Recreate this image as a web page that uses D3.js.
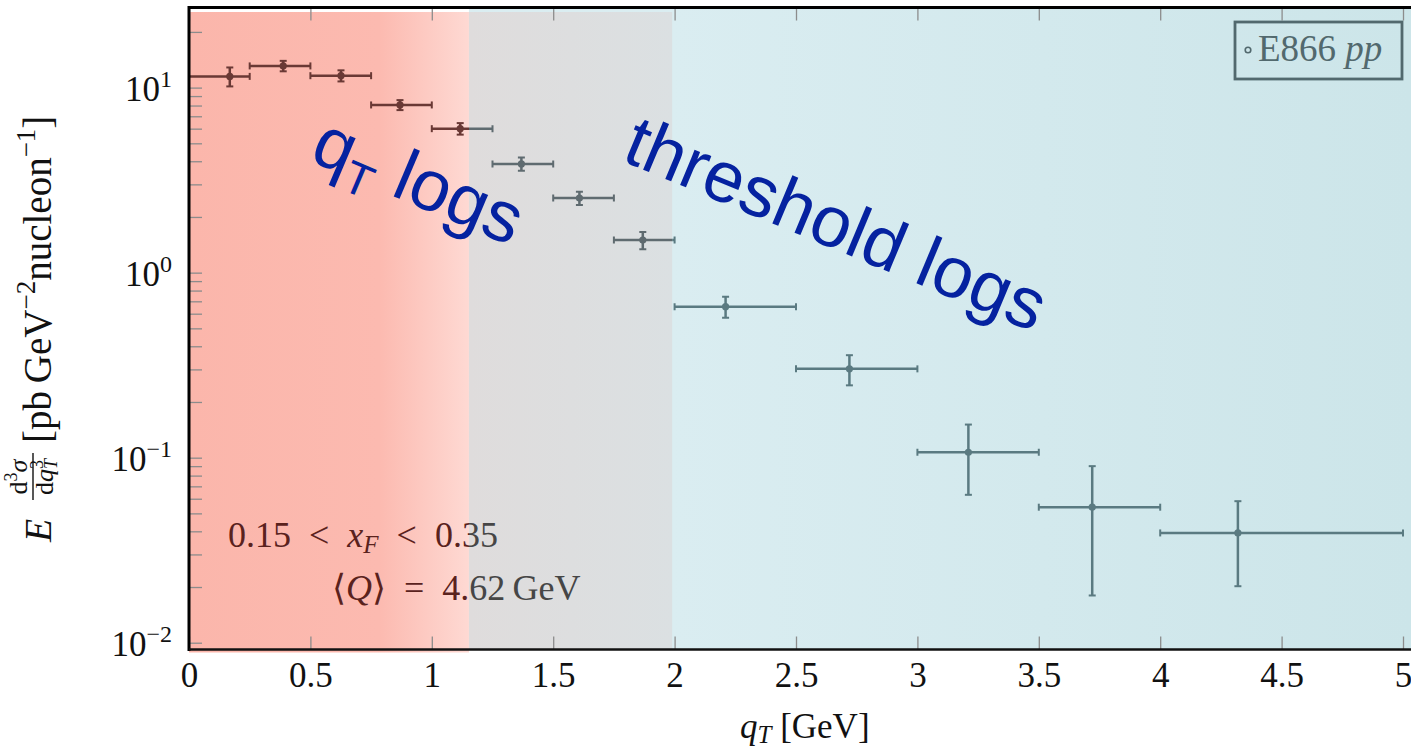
<!DOCTYPE html>
<html lang="en">
  <head>
    <meta charset="UTF-8" />
    <title>E866 pp qT spectrum</title>
    <script src="https://d3js.org/d3.v7.min.js"></script>
    <style>
      body { margin: 0; background: #fff; }
      svg { display: block; }
    </style>
  </head>
  <body>
    <svg id="chart"></svg>
    <script>
      // E866 pp, 0.15 < xF < 0.35
      let binLo = [0, 0.25, 0.5, 0.75, 1.0, 1.25, 1.5, 1.75, 2.0, 2.5, 3.0, 3.5, 4.0]
      let binHi = [0.25, 0.5, 0.75, 1.0, 1.25, 1.5, 1.75, 2.0, 2.5, 3.0, 3.5, 4.0, 5.0]
      let qT = [0.168, 0.388, 0.626, 0.869, 1.117, 1.369, 1.608, 1.869, 2.21, 2.72, 3.21, 3.72, 4.32]
      let sigma = [11.5, 13.1, 11.6, 8.06, 6.0, 3.87, 2.53, 1.5, 0.655, 0.302, 0.107, 0.054, 0.0392]
      let sigmaErr = [1.35, 0.85, 0.8, 0.5, 0.43, 0.32, 0.21, 0.16, 0.085, 0.056, 0.044, 0.036, 0.019]

      let xTicks = [0, 0.5, 1, 1.5, 2, 2.5, 3, 3.5, 4, 4.5, 5]
      let xTickLabels = ['0', '0.5', '1', '1.5', '2', '2.5', '3', '3.5', '4', '4.5', '5']
      let yMajor = [10, 1, 0.1, 0.01]
      let yMajorExp = ['1', '0', '\u22121', '\u22122']

      // region edges (qT logs / transition / threshold logs)
      let bandEdges = [1.153, 1.99]

      let width = 1411
      let height = 750
      let pLeft = 189, pTop = 7.5, pBottom = 649.5
      let serif = '"Liberation Serif", "Times New Roman", serif'
      let sans = '"Liberation Sans", Arial, sans-serif'

      let svg = d3.select('#chart').attr('width', width).attr('height', height)
      let defs = svg.append('defs')

      let x = d3.scaleLinear().domain([0, 5]).range([pLeft, 1403])
      let y = d3.scaleLog().domain([0.00919, 27.1]).range([pBottom, pTop])

      // gradients
      let gRed = defs.append('linearGradient').attr('id', 'gRed')
        .attr('gradientUnits', 'userSpaceOnUse')
        .attr('x1', x(0)).attr('x2', x(bandEdges[0])).attr('y1', 0).attr('y2', 0)
      gRed.append('stop').attr('offset', 0).attr('stop-color', '#fbb6ab')
      gRed.append('stop').attr('offset', 0.68).attr('stop-color', '#fcbab0')
      gRed.append('stop').attr('offset', 1).attr('stop-color', '#fed9d3')

      let gGray = defs.append('linearGradient').attr('id', 'gGray')
        .attr('gradientUnits', 'userSpaceOnUse')
        .attr('x1', x(bandEdges[0])).attr('x2', x(bandEdges[1])).attr('y1', 0).attr('y2', 0)
      gGray.append('stop').attr('offset', 0).attr('stop-color', '#dfdcdc')
      gGray.append('stop').attr('offset', 1).attr('stop-color', '#dbe0e2')

      let gBlue = defs.append('linearGradient').attr('id', 'gBlue')
        .attr('gradientUnits', 'userSpaceOnUse')
        .attr('x1', x(bandEdges[1])).attr('x2', width).attr('y1', 0).attr('y2', 0)
      gBlue.append('stop').attr('offset', 0).attr('stop-color', '#daedf1')
      gBlue.append('stop').attr('offset', 1).attr('stop-color', '#cce5e9')

      // clip paths for the ink colour in each region
      let regions = [
        { id: 'cRed', x0: 0, x1: x(bandEdges[0]), bar: '#6a3935', text: '#5a221d' },
        { id: 'cGray', x0: x(bandEdges[0]), x1: x(bandEdges[1]), bar: '#5f6b70', text: '#464646' },
        { id: 'cBlue', x0: x(bandEdges[1]), x1: width, bar: '#5a7a81', text: '#3a4a4f' },
      ]
      regions.forEach(r => {
        defs.append('clipPath').attr('id', r.id)
          .append('rect').attr('x', r.x0).attr('y', 0).attr('width', r.x1 - r.x0).attr('height', height)
      })

      // background bands
      svg.append('rect')
        .attr('x', x(bandEdges[0])).attr('y', pTop)
        .attr('width', width - x(bandEdges[0])).attr('height', pBottom - pTop)
        .style('fill', 'url(#gBlue)')
      svg.append('rect')
        .attr('x', x(0)).attr('y', pTop + 4.5)
        .attr('width', x(bandEdges[0]) - x(0)).attr('height', pBottom - pTop - 1.5)
        .style('fill', 'url(#gRed)')
      svg.append('rect')
        .attr('x', x(bandEdges[0])).attr('y', pTop + 4.5)
        .attr('width', x(bandEdges[1]) - x(bandEdges[0])).attr('height', pBottom - pTop - 4.5)
        .style('fill', 'url(#gGray)')

      // ticks (inside)
      let tickCol = '#8c8c8c'
      let yMinor = y.ticks().filter(v => v >= y.domain()[0] && v <= y.domain()[1])
      let yAx = svg.append('g').attr('transform', `translate(${pLeft},0)`)
        .call(d3.axisLeft(y).tickValues(yMinor).tickSize(-13).tickFormat(() => ''))
      yAx.select('.domain').remove()
      yAx.selectAll('line').attr('stroke', tickCol).attr('stroke-width', 1.3)

      let xTop = svg.append('g').attr('transform', `translate(0,${pTop})`)
        .call(d3.axisTop(x).tickValues(xTicks).tickSize(-13).tickFormat(() => ''))
      xTop.select('.domain').remove()
      xTop.selectAll('line').attr('stroke', tickCol).attr('stroke-width', 1.3)

      let xBot = svg.append('g').attr('transform', `translate(0,${pBottom})`)
        .call(d3.axisBottom(x).tickValues(xTicks).tickSize(-13).tickPadding(13)
          .tickFormat((d, i) => xTickLabels[i]))
      xBot.select('.domain').remove()
      xBot.selectAll('line').attr('stroke', tickCol).attr('stroke-width', 1.3)
      xBot.selectAll('text')
        .attr('font-family', serif).attr('font-size', 35).attr('fill', '#111')

      // data ink, drawn once per region with its own colour
      function drawInk(g, barCol, textCol) {
        let pts = g.selectAll('g.pt').data(d3.range(qT.length)).join('g').attr('class', 'pt')
          .attr('stroke', barCol).attr('fill', barCol)
        pts.append('line')
          .attr('x1', i => x(binLo[i])).attr('x2', i => x(binHi[i]))
          .attr('y1', i => y(sigma[i])).attr('y2', i => y(sigma[i]))
          .attr('stroke-width', 2.5)
        pts.append('line')
          .attr('x1', i => x(binLo[i])).attr('x2', i => x(binLo[i]))
          .attr('y1', i => y(sigma[i]) - 3.5).attr('y2', i => y(sigma[i]) + 3.5)
          .attr('stroke-width', 2)
        pts.append('line')
          .attr('x1', i => x(binHi[i])).attr('x2', i => x(binHi[i]))
          .attr('y1', i => y(sigma[i]) - 3.5).attr('y2', i => y(sigma[i]) + 3.5)
          .attr('stroke-width', 2)
        pts.append('line')
          .attr('x1', i => x(qT[i])).attr('x2', i => x(qT[i]))
          .attr('y1', i => y(sigma[i] + sigmaErr[i])).attr('y2', i => y(sigma[i] - sigmaErr[i]))
          .attr('stroke-width', 2.5)
        pts.append('line')
          .attr('x1', i => x(qT[i]) - 3.5).attr('x2', i => x(qT[i]) + 3.5)
          .attr('y1', i => y(sigma[i] + sigmaErr[i])).attr('y2', i => y(sigma[i] + sigmaErr[i]))
          .attr('stroke-width', 2)
        pts.append('line')
          .attr('x1', i => x(qT[i]) - 3.5).attr('x2', i => x(qT[i]) + 3.5)
          .attr('y1', i => y(sigma[i] - sigmaErr[i])).attr('y2', i => y(sigma[i] - sigmaErr[i]))
          .attr('stroke-width', 2)
        pts.append('circle')
          .attr('cx', i => x(qT[i])).attr('cy', i => y(sigma[i])).attr('r', 3.6)
          .attr('stroke', 'none')

        let t1 = g.append('text').attr('x', 228).attr('y', 547)
          .attr('font-family', serif).attr('font-size', 36).attr('fill', textCol)
        t1.append('tspan').text('0.15\u2002<\u2002')
        t1.append('tspan').attr('font-style', 'italic').text('x')
        t1.append('tspan').attr('font-style', 'italic').attr('font-size', 25).attr('dy', 6).text('F')
        t1.append('tspan').attr('dy', -6).text('\u2002<\u20020.35')

        let t2 = g.append('text').attr('x', 332).attr('y', 600)
          .attr('font-family', serif).attr('font-size', 36).attr('fill', textCol)
        t2.append('tspan').text('\u27e8')
        t2.append('tspan').attr('font-style', 'italic').text('Q')
        t2.append('tspan').text('\u27e9\u2002=\u20024.62\u2009GeV')
      }

      regions.slice().reverse().forEach(r => {
        let g = svg.append('g').attr('clip-path', `url(#${r.id})`)
        drawInk(g, r.bar, r.text)
      })

      // frame
      svg.append('line').attr('x1', pLeft).attr('x2', pLeft).attr('y1', pTop - 1.5).attr('y2', pBottom + 1.5)
        .attr('stroke', '#000').attr('stroke-width', 3)
      svg.append('line').attr('x1', pLeft).attr('x2', width).attr('y1', pTop).attr('y2', pTop)
        .attr('stroke', '#000').attr('stroke-width', 3)
      svg.append('line').attr('x1', pLeft).attr('x2', width).attr('y1', pBottom).attr('y2', pBottom)
        .attr('stroke', '#111').attr('stroke-width', 2.6)

      // y tick labels 10^k
      let yLab = svg.append('g').attr('font-family', serif).attr('fill', '#111')
      yMajor.forEach((v, i) => {
        let t = yLab.append('text').attr('x', 172).attr('y', y(v) + 13)
          .attr('text-anchor', 'end').attr('font-size', 35)
        t.append('tspan').text('10')
        t.append('tspan').attr('font-size', 24).attr('dy', -14).text(yMajorExp[i])
      })

      // legend
      let legCol = '#52696e'
      svg.append('rect').attr('x', 1235).attr('y', 22).attr('width', 167).attr('height', 57)
        .attr('fill', 'none').attr('stroke', legCol).attr('stroke-width', 2.8)
      svg.append('circle').attr('cx', 1248).attr('cy', 50).attr('r', 2.8)
        .attr('fill', '#cfe7eb').attr('stroke', legCol).attr('stroke-width', 1.6)
      let lt = svg.append('text').attr('x', 1258).attr('y', 61)
        .attr('font-family', serif).attr('font-size', 37).attr('fill', legCol)
      lt.append('tspan').text('E866 ')
      lt.append('tspan').attr('font-style', 'italic').text('pp')

      // region annotations
      let blue = '#0522a0'
      let a1 = svg.append('text').attr('transform', 'translate(308,160) rotate(23)')
        .attr('font-family', sans).attr('font-size', 72).attr('fill', blue)
      a1.append('tspan').text('q')
      a1.append('tspan').attr('font-size', 46).attr('dy', 14).text('T')
      a1.append('tspan').attr('dy', -14).text(' logs')

      svg.append('text').attr('transform', 'translate(620,160) rotate(22.6)')
        .attr('font-family', sans).attr('font-size', 72).attr('fill', blue)
        .text('threshold logs')

      // x axis title
      let xt = svg.append('text').attr('x', 740).attr('y', 738)
        .attr('font-family', serif).attr('font-size', 35).attr('fill', '#111')
      xt.append('tspan').attr('font-style', 'italic').text('q')
      xt.append('tspan').attr('font-style', 'italic').attr('font-size', 25).attr('dy', 5).text('T')
      xt.append('tspan').attr('dy', -5).text(' [GeV]')

      // y axis title: E d^3sigma / dq_T^3 [pb GeV^-2 nucleon^-1]
      let yt = svg.append('g').attr('transform', 'translate(51,545) rotate(-90)')
        .attr('font-family', serif).attr('fill', '#111')
      yt.append('text').attr('x', 3).attr('y', 0).attr('font-size', 38)
        .attr('font-style', 'italic').text('E')
      let num = yt.append('text').attr('x', 68).attr('y', -24).attr('font-size', 26)
        .attr('text-anchor', 'middle')
      num.append('tspan').text('d')
      num.append('tspan').attr('font-size', 18).attr('dy', -10).text('3')
      num.append('tspan').attr('dy', 10).attr('font-style', 'italic').text('\u03c3')
      yt.append('line').attr('x1', 45).attr('x2', 92).attr('y1', -18).attr('y2', -18)
        .attr('stroke', '#111').attr('stroke-width', 1.4)
      let den = yt.append('text').attr('x', 68).attr('y', 2).attr('font-size', 26)
        .attr('text-anchor', 'middle')
      den.append('tspan').text('d')
      den.append('tspan').attr('font-style', 'italic').text('q')
      den.append('tspan').attr('font-size', 18).attr('dy', -10).text('3')
      den.append('tspan').attr('font-size', 18).attr('font-style', 'italic').attr('dx', -9).attr('dy', 14).text('T')
      let unit = yt.append('text').attr('x', 102).attr('y', 0).attr('font-size', 39)
      unit.append('tspan').text('[pb\u2009GeV')
      unit.append('tspan').attr('font-size', 27).attr('dy', -16).text('\u22122')
      unit.append('tspan').attr('dy', 16).text('nucleon')
      unit.append('tspan').attr('font-size', 27).attr('dy', -16).text('\u22121')
      unit.append('tspan').attr('dy', 16).text(']')
    </script>
  </body>
</html>
